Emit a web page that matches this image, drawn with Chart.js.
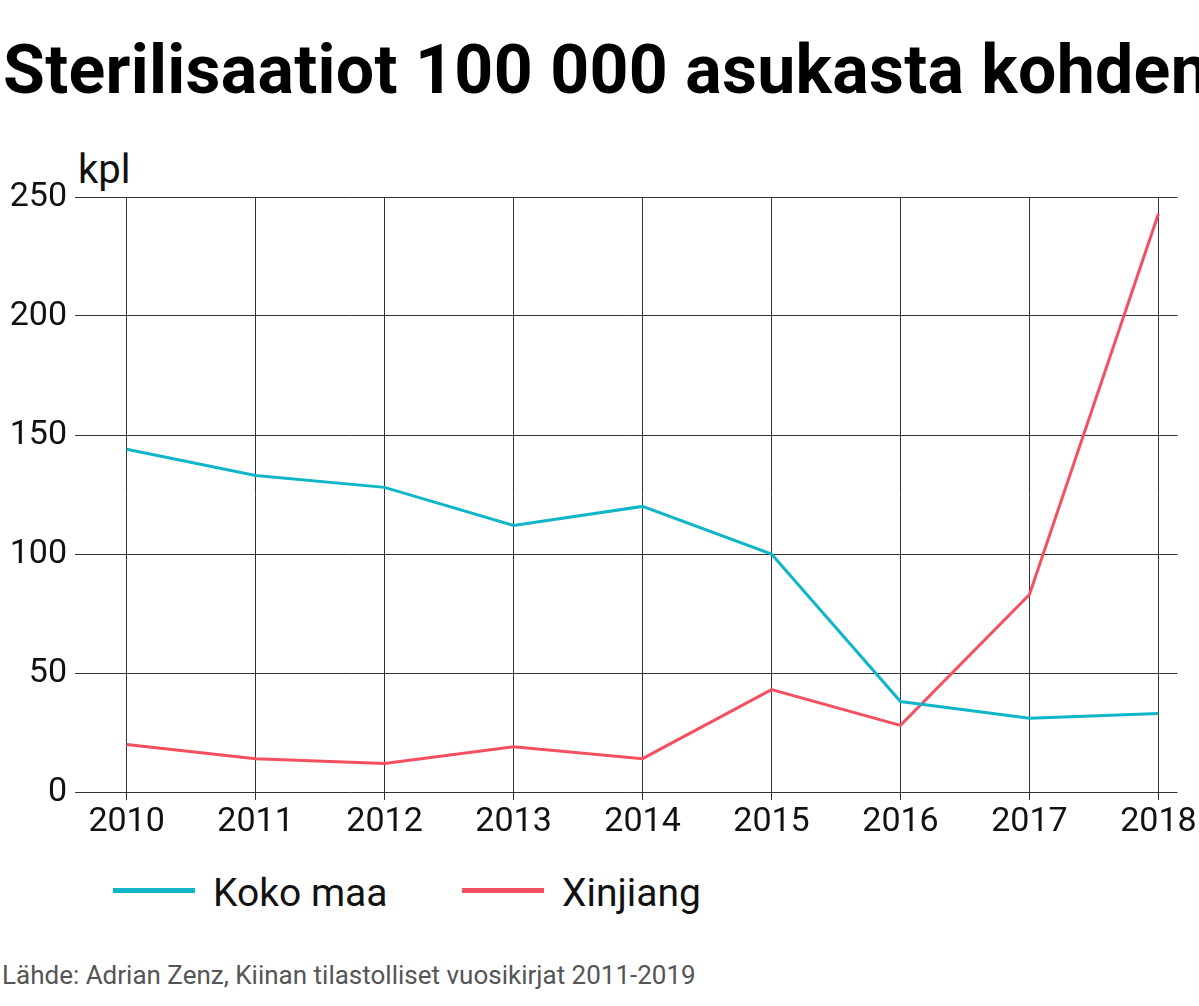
<!DOCTYPE html>
<html><head><meta charset="utf-8">
<script src="https://cdn.jsdelivr.net/npm/chart.js@4"></script>
<style>
body{margin:0;width:1199px;height:1006px;background:#fff;font-family:Roboto,sans-serif;position:relative;overflow:hidden}
#t{position:absolute;left:3px;top:30px;font-size:68px;font-weight:700;color:#000;white-space:nowrap;letter-spacing:0.3px}
#u{position:absolute;left:78px;top:146px;font-size:40px;color:#111}
#c{position:absolute;left:0;top:150px}
.lg{position:absolute;top:870px;font-size:39px;color:#111}
.sw{position:absolute;top:888px;width:82px;height:5px}
#s{position:absolute;left:2px;top:960px;font-size:26px;color:#555}
</style></head><body>
<div id="t">Sterilisaatiot 100 000 asukasta kohden</div>
<div id="u">kpl</div>
<canvas id="c" width="1199" height="692"></canvas>
<div class="sw" style="left:113px;background:#0fb5c9"></div><div class="lg" style="left:213px">Koko maa</div>
<div class="sw" style="left:462px;background:#f5505f"></div><div class="lg" style="left:562px">Xinjiang</div>
<div id="s">Lähde: Adrian Zenz, Kiinan tilastolliset vuosikirjat 2011-2019</div>
<script>
const years=[2010,2011,2012,2013,2014,2015,2016,2017,2018];
const kokoMaa=[144,133,128,112,120,100,38,31,33];
const xinjiang=[20,14,12,19,14,43,28,83,243];
const yTicks=[0,50,100,150,200,250];
new Chart(document.getElementById('c'),{type:'line',
data:{datasets:[
{label:'Koko maa',data:years.map((y,i)=>({x:y,y:kokoMaa[i]})),borderColor:'#0fb5c9',borderWidth:3,pointRadius:0,tension:0},
{label:'Xinjiang',data:years.map((y,i)=>({x:y,y:xinjiang[i]})),borderColor:'#f5505f',borderWidth:3,pointRadius:0,tension:0}]},
options:{responsive:false,animation:false,layout:{padding:{top:47,right:19,left:0,bottom:0}},
plugins:{legend:{display:false},tooltip:{enabled:false}},
scales:{
x:{type:'linear',min:2009.6,max:2018.147,
afterBuildTicks:s=>{s.ticks=years.map(v=>({value:v}));},
afterFit:s=>{s.height=50;},
grid:{color:'#333',lineWidth:1,tickLength:8},border:{display:false},
ticks:{font:{family:'Roboto',size:34},color:'#111',padding:2,callback:v=>String(v),maxRotation:0}},
y:{min:0,max:250,
afterBuildTicks:s=>{s.ticks=yTicks.map(v=>({value:v}));},
afterFit:s=>{s.width=75;},
grid:{color:'#333',lineWidth:1,drawTicks:false},border:{display:false},
ticks:{font:{family:'Roboto',size:34},color:'#111',padding:8,callback:v=>String(v)}}}}});
</script></body></html>
